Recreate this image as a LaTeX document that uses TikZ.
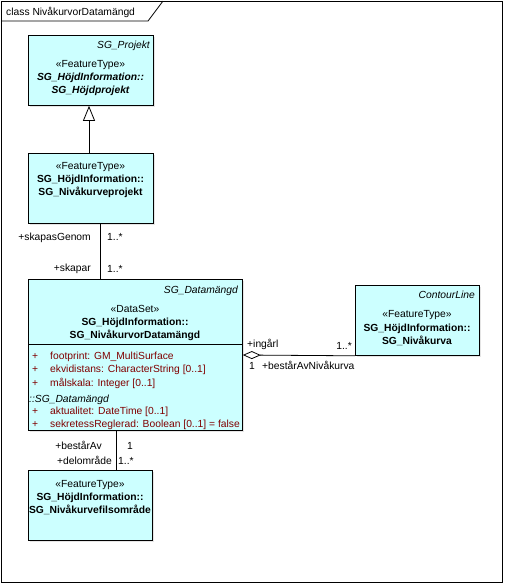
\documentclass[tikz,border=0pt]{standalone}
\usepackage{fontspec}
\setmainfont{Liberation Sans}
\usetikzlibrary{arrows.meta}
\definecolor{clsfill}{RGB}{204,255,255}
\definecolor{attrred}{RGB}{128,0,0}
\tikzset{
  cls/.style={draw=black, fill=clsfill, line width=0.8pt, inner sep=0pt, anchor=north west},
  shadowbox/.style={fill=black!10, draw=none, inner sep=0pt, anchor=north west},
  txt/.style={inner sep=0pt, font=\fontsize{10.3}{13}\selectfont},
  tc/.style={txt, anchor=base},
  tl/.style={txt, anchor=base west},
  tr/.style={txt, anchor=base east},
  attr/.style={tl, text=attrred},
  conn/.style={draw=black, line width=0.8pt},
  gen/.style={conn, -{Triangle[open, width=12pt, length=15pt, fill=white]}},
  agg/.style={conn, {Diamond[open, width=8pt, length=18pt, fill=white]}-},
}
\begin{document}
\begin{tikzpicture}[x=1pt, y=-1pt]
\useasboundingbox (0,0) rectangle (504,584);
% frame
\draw[line width=0.8pt] (1,1) rectangle (502,582);
\draw[line width=0.8pt] (1,21) -- (148,21) -- (163,1);
\node[tl] (title) at (6,15) {class NivåkurvorDatamängd};

% shadows
\node[shadowbox, minimum width=125pt, minimum height=70pt] at (30,37) {};
\node[shadowbox, minimum width=125pt, minimum height=70pt] at (30,155) {};
\node[shadowbox, minimum width=214pt, minimum height=151pt] at (30,281) {};
\node[shadowbox, minimum width=124pt, minimum height=70pt] at (357,287) {};
\node[shadowbox, minimum width=124pt, minimum height=70pt] at (30,472) {};

% boxes
\node[cls, minimum width=125pt, minimum height=70pt] (hp) at (28,35) {};
\node[cls, minimum width=125pt, minimum height=70pt] (np) at (28,153) {};
\node[cls, minimum width=214pt, minimum height=151pt] (ds) at (28,279) {};
\node[cls, minimum width=124pt, minimum height=70pt] (cl) at (355,285) {};
\node[cls, minimum width=124pt, minimum height=70pt] (fo) at (28,470) {};

% box 1 text
\node[tr] (hpsup) at (150,48) {\itshape SG\_Projekt};
\node[tc] (hps) at (90.5,67) {«FeatureType»};
\node[tc] (hpn1) at (90.5,80) {\bfseries\itshape SG\_HöjdInformation::};
\node[tc] (hpn2) at (90.5,93) {\bfseries\itshape SG\_Höjdprojekt};

% box 2 text
\node[tc] (nps) at (90.5,169) {«FeatureType»};
\node[tc] (npn1) at (90.5,182) {\bfseries SG\_HöjdInformation::};
\node[tc] (npn2) at (90.5,195) {\bfseries SG\_Nivåkurveprojekt};

% box 3 text
\node[tr] (dssup) at (238,293) {\itshape SG\_Datamängd};
\node[tc] (dss) at (135,312) {«DataSet»};
\node[tc] (dsn1) at (135,325) {\bfseries SG\_HöjdInformation::};
\node[tc] (dsn2) at (135,338) {\bfseries SG\_NivåkurvorDatamängd};
\draw[conn] ([yshift=-65pt]ds.north west) -- ([yshift=-65pt]ds.north east);
\node[attr] (p1) at (32,359) {+};
\node[attr] (a1) at (50,359) {footprint: GM\_MultiSurface};
\node[attr] (p2) at (32,372) {+};
\node[attr] (a2) at (50,372) {ekvidistans: CharacterString [0..1]};
\node[attr] (p3) at (32,386) {+};
\node[attr] (a3) at (50,386) {målskala: Integer [0..1]};
\node[tl] (inh) at (29,402) {\itshape ::SG\_Datamängd};
\node[attr] (p4) at (32,414) {+};
\node[attr] (a4) at (50,414) {aktualitet: DateTime [0..1]};
\node[attr] (p5) at (32,427) {+};
\node[attr] (a5) at (50,427) {sekretessReglerad: Boolean [0..1] = false};

% box 4 text
\node[tr] (clsup) at (475,298) {\itshape ContourLine};
\node[tc] (cls1) at (417,317) {«FeatureType»};
\node[tc] (cln1) at (417,331) {\bfseries SG\_HöjdInformation::};
\node[tc] (cln2) at (417,344) {\bfseries SG\_Nivåkurva};

% box 5 text
\node[tc] (fos) at (90,487) {«FeatureType»};
\node[tc] (fon1) at (90,500) {\bfseries SG\_HöjdInformation::};
\node[tc] (fon2) at (90,513) {\bfseries SG\_Nivåkurvefilsområde};

% connectors
\draw[gen] ([xshift=61pt]np.north west) -- ([xshift=61pt]hp.south west);
\draw[conn] ([xshift=72pt]np.south west) -- ([xshift=72pt]ds.north west);
\draw[conn] ([xshift=88pt]ds.south west) -- ([xshift=88pt]fo.north west);
\draw[agg] ([yshift=-76pt]ds.north east) -- (cl.south west);

% connector labels
\node[tr] (l1) at (91,240) {+skapasGenom};
\node[tl] (m1) at (107,240) {1..*};
\node[tr] (l2) at (91,271) {+skapar};
\node[tl] (m2) at (107,272) {1..*};
\node[tl] (l3) at (247,347) {+ingårl};
\node[tr] (m3) at (352,349) {1..*};
\node[tl] (m4) at (249,369) {1};
\node[tl] (l4) at (262,369) {+bestårAvNivåkurva};
\node[tr] (l5) at (102,449) {+bestårAv};
\node[tl] (m5) at (127,449) {1};
\node[tr] (l6) at (112,464) {+delområde};
\node[tl] (m6) at (118,464) {1..*};
\end{tikzpicture}
\end{document}
